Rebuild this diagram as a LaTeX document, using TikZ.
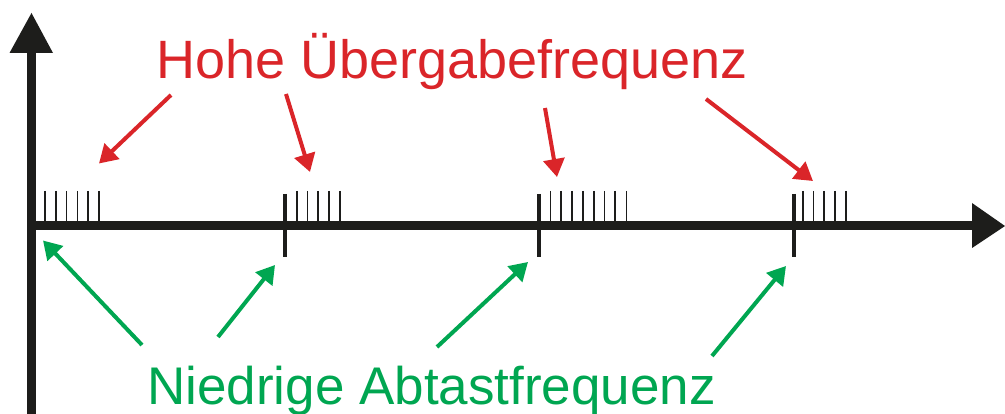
\documentclass[tikz,border=0pt]{standalone}
\usepackage{fontspec}
\setmainfont{Liberation Sans}
\usetikzlibrary{arrows.meta}
\definecolor{axisblack}{RGB}{29,29,27}
\definecolor{hired}{RGB}{218,37,41}
\definecolor{logreen}{RGB}{0,166,81}
\tikzset{
  axisline/.style={draw=axisblack, line width=9pt},
  axishead/.style={fill=axisblack, draw=none},
  bigtick/.style={draw=axisblack, line width=4.5pt},
  smalltick/.style={draw=axisblack, line width=1.7pt},
  redarrow/.style={draw=hired, line width=4pt, -{Triangle[length=18pt,width=21pt]}},
  greenarrow/.style={draw=logreen, line width=4pt, -{Triangle[length=18pt,width=21pt]}},
  redlabel/.style={text=hired, inner sep=0pt, anchor=base west, font=\fontsize{54}{60}\selectfont},
  greenlabel/.style={text=logreen, inner sep=0pt, anchor=base west, font=\fontsize{53}{60}\selectfont},
}
\begin{document}
\begin{tikzpicture}[x=1pt,y=-1pt]
\useasboundingbox (0,0) rectangle (1005,414);
% axes
\coordinate (yb) at (31.5,414);
\coordinate (yt) at (31.5,50);
\coordinate (xl) at (27,226);
\coordinate (xr) at (975,226);
\draw[axisline] (yb) -- (yt);
\draw[axisline] (xl) -- (xr);
\fill[axishead] (31.5,13) -- (53,53) -- (9.5,53) -- cycle;
\fill[axishead] (1005,226) -- (972,248) -- (972,203) -- cycle;
% big ticks
\foreach \x in {285,539,794} {\draw[bigtick] (\x,194) -- (\x,257);}
% small tick groups
\foreach \x in {45,55.8,66.6,77.4,88.2,99} {\draw[smalltick] (\x,191) -- (\x,224);}
\foreach \x in {296.7,307.5,318.3,329.1,339.9} {\draw[smalltick] (\x,191) -- (\x,224);}
\foreach \x in {550.5,561.3,572.1,582.9,593.7,604.5,615.3,626.5} {\draw[smalltick] (\x,191) -- (\x,224);}
\foreach \x in {802.7,813.5,824.3,835.1,845.9} {\draw[smalltick] (\x,191) -- (\x,224);}
% labels
\node[redlabel] (hohe) at (156,79) {Hohe Übergabefrequenz};
\node[greenlabel] (niedrig) at (147,404) {Niedrige Abtastfrequenz};
% red arrows
\coordinate (r1s) at (171,95);   \coordinate (r1e) at (99,163.5);
\coordinate (r2s) at (286,94);   \coordinate (r2e) at (310,172);
\coordinate (r3s) at (545,108);  \coordinate (r3e) at (557,177);
\coordinate (r4s) at (706,99);   \coordinate (r4e) at (813,181);
\draw[redarrow] (r1s) -- (r1e);
\draw[redarrow] (r2s) -- (r2e);
\draw[redarrow] (r3s) -- (r3e);
\draw[redarrow] (r4s) -- (r4e);
% green arrows
\coordinate (g1s) at (142,345);  \coordinate (g1e) at (43,240.5);
\coordinate (g2s) at (218,337);  \coordinate (g2e) at (275,265);
\coordinate (g3s) at (437,347);  \coordinate (g3e) at (528,262);
\coordinate (g4s) at (712,356);  \coordinate (g4e) at (786,266);
\draw[greenarrow] (g1s) -- (g1e);
\draw[greenarrow] (g2s) -- (g2e);
\draw[greenarrow] (g3s) -- (g3e);
\draw[greenarrow] (g4s) -- (g4e);
\end{tikzpicture}
\end{document}
